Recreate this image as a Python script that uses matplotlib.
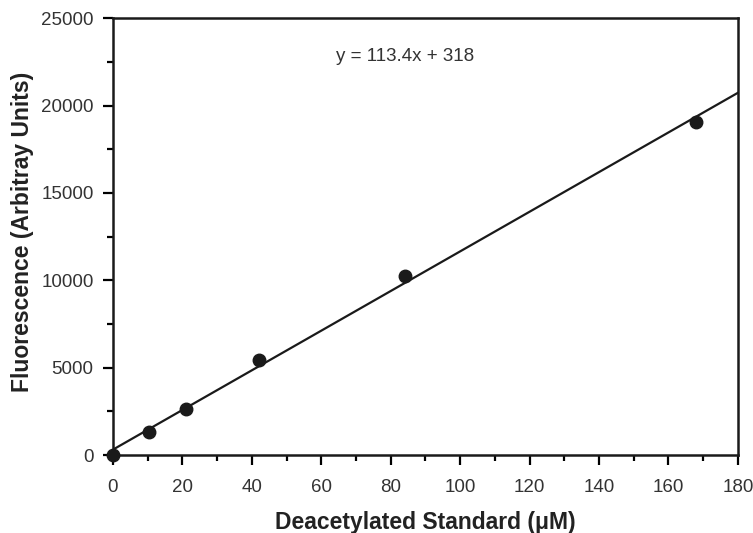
import matplotlib
matplotlib.use("Agg")
import matplotlib.pyplot as plt
import numpy as np
from matplotlib.ticker import MultipleLocator

plt.rcParams['font.family'] = ['Liberation Sans', 'DejaVu Sans']

conc = [0, 10.5, 21, 42, 84, 168]
fluor = [0, 1320, 2620, 5460, 10240, 19030]
slope = 113.4
intercept = 318

fig = plt.figure(figsize=(7.53, 5.33), dpi=100)
ax = fig.add_axes([0.150, 0.146, 0.830, 0.820])

fit_x = np.array([0, 180])
ax.plot(fit_x, slope * fit_x + intercept, color='#1a1a1a', lw=1.6, zorder=2)
ax.plot(conc, fluor, 'o', color='#1a1a1a', ms=9, zorder=3, clip_on=False)

ax.text(84, 22800, "y = 113.4x + 318", ha='center', va='center',
        fontsize=13.5, color='#333333')

ax.set_xlim(0, 180)
ax.set_ylim(0, 25000)
ax.xaxis.set_major_locator(MultipleLocator(20))
ax.xaxis.set_minor_locator(MultipleLocator(10))
ax.yaxis.set_major_locator(MultipleLocator(5000))
ax.yaxis.set_minor_locator(MultipleLocator(2500))
ax.tick_params(which='major', direction='out', length=7, width=1.6,
               labelsize=13.5, labelcolor='#333333', pad=7)
ax.tick_params(axis='x', which='major', pad=10)
ax.tick_params(which='minor', direction='out', length=4, width=1.6)
for s in ax.spines.values():
    s.set_linewidth(1.8)
    s.set_color('#1a1a1a')

ax.set_xlabel("Deacetylated Standard (\u03bcM)", fontsize=16.5, fontweight='bold',
              color='#222222', labelpad=11)
ax.set_ylabel("Fluorescence (Arbitray Units)", fontsize=16.5, fontweight='bold',
              color='#222222', labelpad=4)
ax.yaxis.set_label_coords(-0.127, 0.51)

fig.savefig("out.png", dpi=100)
